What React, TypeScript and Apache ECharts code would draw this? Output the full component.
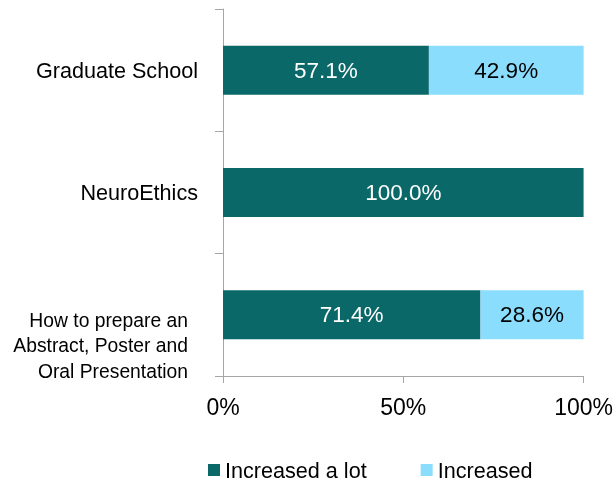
import React, { useEffect, useRef } from "react";
import * as echarts from "echarts";

const categories = [
  "Graduate School",
  "NeuroEthics",
  "How to prepare an\nAbstract, Poster and\nOral Presentation",
];
const increasedALot = [57.1, 100.0, 71.4];
const increased = [42.9, 0, 28.6];
const seriesNames = ["Increased a lot", "Increased"];
const xTicks = [0, 50, 100];

const FONT = 'Arial, "Liberation Sans", sans-serif';

export default function App() {
  const ref = useRef<HTMLDivElement>(null);
  useEffect(() => {
    if (!ref.current) return;
    const chart = echarts.init(ref.current, null, { renderer: "svg" });
    const labelFmt = (p: any) => (p.value > 0 ? `${Number(p.value).toFixed(1)}%` : "");
    chart.setOption({
      animation: false,
      textStyle: { fontFamily: FONT },
      grid: { left: 223, right: 32, top: 9, bottom: 108, containLabel: false },
      legend: {
        data: seriesNames,
        left: 208,
        top: 459,
        padding: 0,
        itemWidth: 12,
        itemHeight: 12,
        itemGap: 54,
        icon: "rect",
        textStyle: { fontSize: 21.6, color: "#000", fontFamily: FONT },
      },
      xAxis: {
        type: "value",
        min: xTicks[0],
        max: xTicks[xTicks.length - 1],
        interval: 50,
        axisLine: { show: true, lineStyle: { color: "#A6A6A6", width: 1 } },
        axisTick: { show: true, length: 7, lineStyle: { color: "#A6A6A6" } },
        splitLine: { show: false },
        axisLabel: {
          formatter: (v: number) => `${v}%`,
          fontSize: 23,
          color: "#000",
          margin: 19,
          fontFamily: FONT,
        },
      },
      yAxis: {
        type: "category",
        inverse: true,
        data: categories.map((c) =>
          c.includes("\n")
            ? { value: c, textStyle: { padding: [0, 10, 0, 0] } }
            : { value: c }
        ),
        axisLine: { show: true, lineStyle: { color: "#A6A6A6", width: 1 } },
        axisTick: { show: true, length: 8, lineStyle: { color: "#A6A6A6" } },
        axisLabel: {
          fontSize: 21.6,
          color: "#000",
          margin: 25,
          fontFamily: FONT,
          formatter: (v: string) =>
            v.includes("\n")
              ? v
                  .split("\n")
                  .map((l, i) => (i === 0 ? `{f|${l}}` : `{a|${l}}`))
                  .join("\n")
              : v,
          rich: {
            f: {
              fontSize: 19.3,
              lineHeight: 87,
              verticalAlign: "bottom",
              padding: [0, 0, 2, 0],
              color: "#000",
              fontFamily: FONT,
            },
            a: { fontSize: 19.3, lineHeight: 26, color: "#000", fontFamily: FONT },
          },
        },
      },
      series: [
        {
          name: seriesNames[0],
          type: "bar",
          stack: "total",
          barWidth: "40%",
          data: increasedALot,
          itemStyle: { color: "#0B6869" },
          label: {
            show: true,
            position: "inside",
            formatter: labelFmt,
            color: "#fff",
            fontSize: 22.5,
            fontFamily: FONT,
          },
        },
        {
          name: seriesNames[1],
          type: "bar",
          stack: "total",
          barWidth: "40%",
          data: increased,
          itemStyle: { color: "#8ADDFC" },
          label: {
            show: true,
            position: "inside",
            formatter: labelFmt,
            color: "#000",
            fontSize: 22.5,
            fontFamily: FONT,
          },
        },
      ],
    });
    return () => chart.dispose();
  }, []);
  return (
    <div
      ref={ref}
      style={{ position: "fixed", left: 0, top: 0, width: 616, height: 484 }}
    />
  );
}
